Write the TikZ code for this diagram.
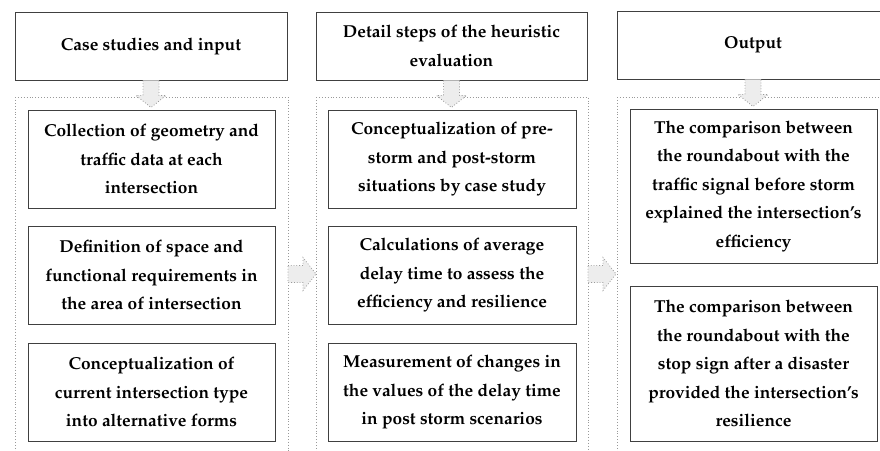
\documentclass[tikz,border=0pt]{standalone}
\usepackage[T1]{fontenc}
\usepackage{mathpazo}
\usetikzlibrary{positioning,calc}
\tikzset{
  boxstyle/.style={draw=black!75, line width=0.9pt, fill=white, inner sep=0pt, align=center,
    font=\fontsize{17.3}{28.5}\selectfont\bfseries},
  contstyle/.style={draw=black!40, dotted, line width=0.9pt},
  barrow/.style={draw=black!40, dotted, line width=0.8pt, fill=black!7},
}
\begin{document}
\begin{tikzpicture}[x=1pt,y=-1pt]
\useasboundingbox (0,0) rectangle (880,450);
\clip (0,0) rectangle (880,450);
% containers
\draw[contstyle] (15,97) -- (15,470) (15,97) -- (288,97) -- (288,470);
\draw[contstyle] (316,97) -- (316,470) (316,97) -- (588,97) -- (588,470);
\draw[contstyle] (617,97) -- (617,470) (617,97) -- (890,97) -- (890,470);
% headers
\node[boxstyle, minimum width=272, minimum height=68] (h1) at (151,46) {Case studies and input};
\node[boxstyle, minimum width=271, minimum height=68] (h2) at (451.5,46) {Detail steps of the heuristic\\evaluation};
\node[boxstyle, minimum width=272, minimum height=68] (h3) at (753,45) {Output};
% column 1
\node[boxstyle, minimum width=247, minimum height=98] (a1) at (151.5,159) {Collection of geometry and\\traffic data at each\\intersection};
\node[boxstyle, minimum width=247, minimum height=98] (a2) at (151.5,275) {Definition of space and\\functional requirements in\\the area of intersection};
\node[boxstyle, minimum width=247, minimum height=98] (a3) at (151.5,392) {Conceptualization of\\current intersection type\\into alternative forms};
% column 2
\node[boxstyle, minimum width=248, minimum height=98] (b1) at (452,159) {Conceptualization of pre-\\storm and post-storm\\situations by case study};
\node[boxstyle, minimum width=248, minimum height=98] (b2) at (452,275) {Calculations of average\\delay time to assess the\\efficiency and resilience};
\node[boxstyle, minimum width=248, minimum height=98] (b3) at (452,392) {Measurement of changes in\\the values of the delay time\\in post storm scenarios};
% column 3
\node[boxstyle, minimum width=247, minimum height=154] (c1) at (753.5,186) {The comparison between\\the roundabout with the\\traffic signal before storm\\explained the intersection's\\efficiency};
\node[boxstyle, minimum width=247, minimum height=155] (c2) at (753.5,363.5) {The comparison between\\the roundabout with the\\stop sign after a disaster\\provided the intersection's\\resilience};
% down arrows
\foreach \h in {h1,h2,h3}{
  \draw[barrow] ($(\h.south)+(-8,0)$) -- ++(0,15) -- ++(-7,0) -- ++(15,12) -- ++(15,-12) -- ++(-7,0) -- ++(0,-15);
}
% right arrows
\coordinate (r1) at (288,274);
\coordinate (r2) at (588,274);
\foreach \r in {r1,r2}{
  \draw[barrow] ($(\r)+(0,-8.5)$) -- ++(15,0) -- ++(0,-8) -- ++(13,16.5) -- ++(-13,16.5) -- ++(0,-8) -- ++(-15,0) -- cycle;
}
\end{tikzpicture}
\end{document}
